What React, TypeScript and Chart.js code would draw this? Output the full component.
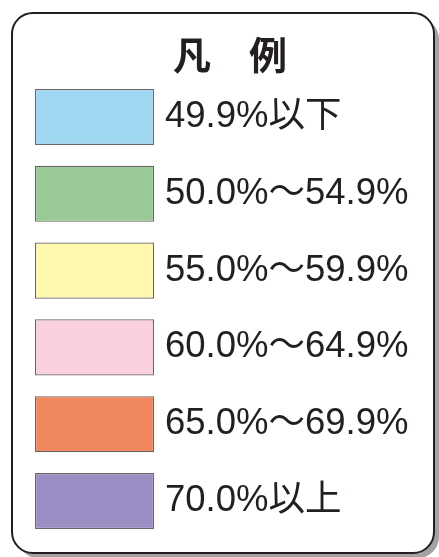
import React, { useEffect, useRef } from "react";
import { Chart, registerables } from "chart.js";

Chart.register(...registerables);

const titleText = "凡　例";
const categories = [
  "49.9%以下",
  "50.0%～54.9%",
  "55.0%～59.9%",
  "60.0%～64.9%",
  "65.0%～69.9%",
  "70.0%以上",
];
const values = [1, 1, 1, 1, 1, 1];
const colors = ["#a0d8f4", "#99c994", "#fff8ae", "#f9d0dc", "#f0875f", "#9b8ec4"];

const W = 439;
const H = 557;

function roundRect(ctx: CanvasRenderingContext2D, x: number, y: number, w: number, h: number, r: number) {
  ctx.beginPath();
  ctx.moveTo(x + r, y);
  ctx.lineTo(x + w - r, y);
  ctx.arcTo(x + w, y, x + w, y + r, r);
  ctx.lineTo(x + w, y + h - r);
  ctx.arcTo(x + w, y + h, x + w - r, y + h, r);
  ctx.lineTo(x + r, y + h);
  ctx.arcTo(x, y + h, x, y + h - r, r);
  ctx.lineTo(x, y + r);
  ctx.arcTo(x, y, x + r, y, r);
  ctx.closePath();
}

const framePlugin = {
  id: "frame",
  beforeDraw(chart: any) {
    const ctx: CanvasRenderingContext2D = chart.ctx;
    ctx.save();
    ctx.fillStyle = "#ffffff";
    ctx.fillRect(0, 0, chart.width, chart.height);
    // shadow
    roundRect(ctx, 17, 18, 422, 540, 21);
    ctx.fillStyle = "#a3a3a3";
    ctx.fill();
    // box
    roundRect(ctx, 12, 13, 422, 540, 21);
    ctx.fillStyle = "#ffffff";
    ctx.fill();
    ctx.lineWidth = 2;
    ctx.strokeStyle = "#231f20";
    ctx.stroke();
    ctx.restore();
  },
};

export default function App() {
  const ref = useRef<HTMLCanvasElement | null>(null);
  useEffect(() => {
    if (!ref.current) return;
    const chart = new Chart(ref.current, {
      type: "bar",
      data: {
        labels: categories,
        datasets: [
          {
            data: values,
            backgroundColor: colors,
            borderColor: "#6b6566",
            borderWidth: 1.2,
            borderSkipped: false,
            barPercentage: 0.73,
            categoryPercentage: 1,
          },
        ],
      },
      options: {
        indexAxis: "y",
        responsive: false,
        animation: false,
        devicePixelRatio: 1,
        events: [],
        layout: { padding: { left: 35, top: 32, right: 14, bottom: 17.6 } },
        plugins: {
          legend: { display: false },
          tooltip: { enabled: false },
          title: {
            display: true,
            text: titleText,
            color: "#231f20",
            font: { family: '"Noto Sans CJK JP", sans-serif', size: 38, weight: "bold" },
            padding: { top: 0, bottom: 1 },
          },
        },
        scales: {
          x: { display: false, min: 0, max: 1 },
          y: {
            type: "category",
            position: "right",
            offset: true,
            grid: { display: false, drawTicks: false },
            border: { display: false },
            ticks: {
              padding: 11,
              autoSkip: false,
              color: "#231f20",
              font: { family: '"Liberation Sans", "Noto Sans CJK JP", sans-serif', size: 36.5 },
            },
            afterFit: (s: any) => {
              s.width = 271;
              s.paddingTop = 0;
              s.paddingBottom = 0;
            },
          },
        },
      },
      plugins: [framePlugin],
    } as any);
    return () => chart.destroy();
  }, []);
  return (
    <canvas
      ref={ref}
      width={W}
      height={H}
      style={{ position: "absolute", left: 0, top: 0, width: W, height: H }}
    />
  );
}
